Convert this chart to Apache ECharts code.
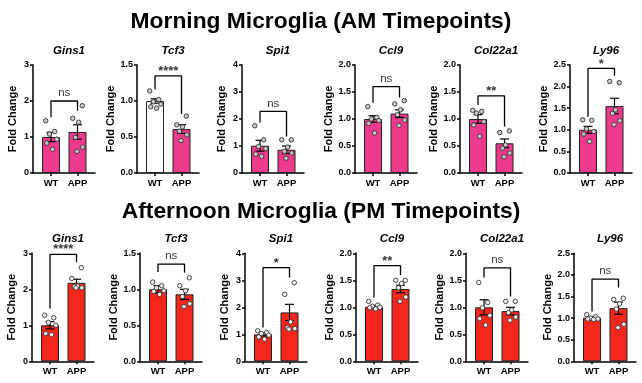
<!DOCTYPE html>
<html><head><meta charset="utf-8">
<script src="https://cdn.jsdelivr.net/npm/echarts@6/dist/echarts.min.js"></script>
<style>html,body{margin:0;padding:0;background:#fff}#c{width:642px;height:383px}</style>
</head><body><div id="c"></div>
<script>
const rowTitles = ['Morning Microglia (AM Timepoints)', 'Afternoon Microglia (PM Timepoints)'];
const genes = ['Gins1', 'Tcf3', 'Spi1', 'Ccl9', 'Col22a1', 'Ly96'];
const groups = ['WT', 'APP'];
const yMax = [3, 1.5, 4, 2, 2, 2.5];
const yStep = [1, 0.5, 1, 0.5, 0.5, 0.5];

// Morning (AM)
const amMean = [[1.0, 1.14], [1.0, 0.61], [1.01, 0.86], [1.0, 1.1], [1.0, 0.55], [1.0, 1.55]];
const amSem = [[0.13, 0.2], [0.03, 0.06], [0.2, 0.14], [0.06, 0.07], [0.08, 0.08], [0.08, 0.18]];
const amWT = [
  [1.45, 1.15, 1.08, 0.94, 0.83, 0.66],
  [1.14, 1.02, 0.99, 0.955, 0.92, 0.9],
  [1.75, 1.23, 0.98, 0.9, 0.7, 0.62],
  [1.23, 1.03, 1.0, 0.97, 0.92, 0.74],
  [1.16, 1.14, 1.11, 0.95, 0.89, 0.68],
  [1.23, 1.22, 1.02, 0.96, 0.9, 0.73]
];
const amAPP = [
  [1.87, 1.52, 1.41, 0.99, 0.72, 0.6],
  [0.79, 0.67, 0.64, 0.58, 0.53, 0.45],
  [1.23, 1.23, 0.96, 0.8, 0.74, 0.55],
  [1.34, 1.28, 1.17, 1.08, 0.98, 0.88],
  [0.78, 0.75, 0.52, 0.46, 0.37, 0.3],
  [2.09, 2.12, 1.46, 1.38, 1.21, 1.12]
];
const amSig = ['ns', '****', 'ns', 'ns', '**', '*'];
// bracket: [WT end, top, APP end]
const amBracket = [[1.55, 2.0, 1.73], [1.16, 1.35, 0.82], [1.87, 2.28, 1.35], [1.3, 1.6, 1.4], [1.26, 1.43, 0.86], [1.3, 2.42, 2.25]];

// Afternoon (PM)
const pmMean = [[1.0, 2.18], [1.0, 0.93], [1.0, 1.81], [1.01, 1.34], [1.0, 0.93], [1.01, 1.23]];
const pmSem = [[0.1, 0.1], [0.05, 0.07], [0.06, 0.3], [0.02, 0.07], [0.14, 0.07], [0.02, 0.14]];
const pmWT = [
  [1.28, 1.21, 1.08, 1.0, 0.77, 0.74],
  [1.1, 1.05, 1.02, 0.98, 0.97, 0.93],
  [1.13, 1.07, 1.03, 0.97, 0.9, 0.82],
  [1.11, 1.04, 1.02, 1.0, 0.99, 0.97],
  [1.46, 1.09, 0.99, 0.85, 0.79, 0.67],
  [1.08, 1.03, 1.0, 0.98, 0.98, 0.97]
];
const pmAPP = [
  [2.6, 2.3, 2.09, 2.07, 2.04, 2.04],
  [1.16, 1.05, 0.98, 0.9, 0.8, 0.76],
  [2.91, 2.48, 1.46, 1.24, 1.21, 1.19],
  [1.5, 1.5, 1.44, 1.36, 1.19, 1.11],
  [1.11, 1.11, 0.95, 0.9, 0.82, 0.76],
  [1.46, 1.43, 1.33, 1.21, 0.86, 0.78]
];
const pmSig = ['****', 'ns', '*', '**', 'ns', 'ns'];
const pmBracket = [[1.47, 2.97, 2.75], [1.24, 1.35, 1.23], [1.25, 3.47, 3.1], [1.18, 1.77, 1.6], [1.55, 1.73, 1.2], [1.15, 1.9, 1.71]];

// ---- layout / style ----
const FONT = '"Liberation Sans", Arial, sans-serif';
const gridLeft = [[33, 137, 242, 355, 460, 570], [32, 140, 245, 356, 466, 574]];
const gridTop = [65, 253.3];
const plotW = 62, plotH = 108;
const rowColor = ['#EE3A8D', '#F5261C'];
const jitter = [-0.2, 0.14, -0.06, 0.22, -0.16, 0.06];
const jitter2 = [0.18, -0.18, 0.04, -0.08, 0.2, -0.02];

const rows = [
  {mean: amMean, sem: amSem, wt: amWT, app: amAPP, sig: amSig, br: amBracket},
  {mean: pmMean, sem: pmSem, wt: pmWT, app: pmAPP, sig: pmSig, br: pmBracket}
];

const grids = [], xAxes = [], yAxes = [], series = [], titles = [];
rowTitles.forEach((t, r) => {
  titles.push({text: t, left: 'center', top: r === 0 ? 5 : 195,
    textStyle: {fontFamily: FONT, fontSize: 22.8, fontWeight: 'bold', color: '#000'}});
});

rows.forEach((R, r) => {
  genes.forEach((g, k) => {
    const p = r * 6 + k;
    const left = gridLeft[r][k];
    grids.push({left: left, top: gridTop[r], width: plotW, height: plotH});
    titles.push({text: g, left: left + plotW / 2, top: gridTop[r] - 25, textAlign: 'center',
      textStyle: {fontFamily: FONT, fontSize: 11.5, fontWeight: 'bold', fontStyle: 'italic', color: '#000'}});
    xAxes.push({gridIndex: p, type: 'value', min: -0.68, max: 1.66,
      axisLine: {show: true, onZero: false, lineStyle: {color: '#000', width: 1.5}},
      axisTick: {show: true, customValues: [0, 1], length: 3, lineStyle: {color: '#000', width: 1.5}},
      axisLabel: {show: true, customValues: [0, 1], formatter: v => groups[Math.round(v)], margin: 5,
        fontFamily: FONT, fontSize: 9.5, fontWeight: 'bold', color: '#000'},
      splitLine: {show: false}});
    const dec = yStep[k] < 1 ? 1 : 0;
    yAxes.push({gridIndex: p, type: 'value', min: 0, max: yMax[k], interval: yStep[k],
      name: 'Fold Change', nameLocation: 'middle', nameGap: dec ? 20 : 15,
      nameTextStyle: {fontFamily: FONT, fontSize: 11, fontWeight: 'bold', color: '#000'},
      axisLine: {show: true, onZero: false, lineStyle: {color: '#000', width: 1.5}},
      axisTick: {show: true, length: 3, lineStyle: {color: '#000', width: 1.5}},
      axisLabel: {formatter: v => v.toFixed(dec), margin: 4, fontFamily: FONT, fontSize: 9, fontWeight: 'bold', color: '#000'},
      splitLine: {show: false}});

    const barData = R.mean[k].map((m, i) => {
      const white = (r === 0 && k === 1 && i === 0);
      return {value: [i, m], itemStyle: {color: white ? '#fff' : rowColor[r]}};
    });
    series.push({type: 'bar', xAxisIndex: p, yAxisIndex: p, data: barData, barWidth: 18,
      itemStyle: {borderColor: '#222', borderWidth: 1}, z: 2, silent: true, animation: false});

    series.push({type: 'custom', xAxisIndex: p, yAxisIndex: p, z: 4, silent: true, animation: false,
      data: R.mean[k].map((m, i) => [i, m, R.sem[k][i]]),
      renderItem: (params, api) => {
        const x = api.value(0), m = api.value(1), s = api.value(2);
        const a = api.coord([x, m + s]), b = api.coord([x, m - s]);
        const st = {stroke: '#000', lineWidth: 1.2};
        return {type: 'group', children: [
          {type: 'line', shape: {x1: a[0], y1: a[1], x2: b[0], y2: b[1]}, style: st},
          {type: 'line', shape: {x1: a[0] - 4.5, y1: a[1], x2: a[0] + 4.5, y2: a[1]}, style: st},
          {type: 'line', shape: {x1: b[0] - 4.5, y1: b[1], x2: b[0] + 4.5, y2: b[1]}, style: st}
        ]};
      }});

    const pts = [];
    R.wt[k].forEach((v, j) => pts.push([0 + jitter[j], v]));
    R.app[k].forEach((v, j) => pts.push([1 + jitter2[j], v]));
    series.push({type: 'scatter', xAxisIndex: p, yAxisIndex: p, data: pts, symbolSize: 4.5, clip: false,
      itemStyle: {color: r === 0 ? '#c8c8c8' : '#f2f2f2', borderColor: '#333', borderWidth: 0.9, opacity: 1},
      z: 5, silent: true, animation: false});

    const b = R.br[k];
    series.push({type: 'line', xAxisIndex: p, yAxisIndex: p, data: [[0, b[0]], [0, b[1]], [1, b[1]], [1, b[2]]],
      symbol: 'none', clip: false, lineStyle: {color: '#000', width: 1.3}, z: 6, silent: true, animation: false});

    const isNs = R.sig[k] === 'ns';
    series.push({type: 'scatter', xAxisIndex: p, yAxisIndex: p, data: [[0.5, b[1]]], symbolSize: 0, clip: false,
      label: {show: true, position: 'top', distance: isNs ? 2 : -2, formatter: R.sig[k],
        fontFamily: FONT, fontSize: isNs ? 11.5 : 13, fontWeight: isNs ? 'normal' : 'bold', color: '#000'},
      z: 7, silent: true, animation: false});
  });
});

const chart = echarts.init(document.getElementById('c'), null, {renderer: 'canvas'});
chart.setOption({backgroundColor: '#fff', animation: false, title: titles, grid: grids, xAxis: xAxes, yAxis: yAxes, series: series});
</script></body></html>
